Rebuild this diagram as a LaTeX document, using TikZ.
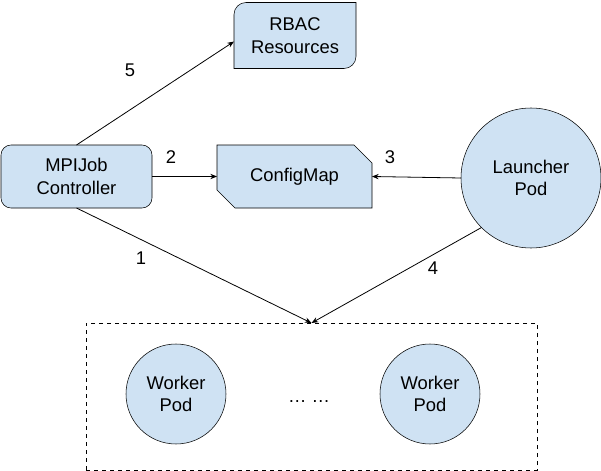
\documentclass[tikz,border=0pt]{standalone}
\usepackage{fontspec}
\setmainfont{Liberation Sans}
\usetikzlibrary{shapes.misc,shapes.geometric,backgrounds,arrows.meta}
\definecolor{boxblue}{HTML}{CFE2F3}
\newcommand*\boxfont{\fontsize{13.8}{16.8}\selectfont}
\tikzset{
    box/.style      = {fill=boxblue, inner sep=0pt, outer sep=0pt,
                      align=center, font=\boxfont},
    roundbox/.style = {box, draw, rounded corners=7.5pt},
    snipbox/.style  = {box, draw, chamfered rectangle,
                      chamfered rectangle xsep=7pt, chamfered rectangle ysep=7pt,
                      chamfered rectangle corners={north east,south west}},
    diagbox/.style  = {box, fill=none},
    podcircle/.style= {box, draw, circle},
    step label/.style = {font=\boxfont, inner sep=0pt},
    link/.style     = {draw, line width=0.6pt, -{Stealth[length=5pt,width=4pt]}},
}

\begin{document}
\begin{tikzpicture}[x=0.75pt, y=-0.75pt]
    \useasboundingbox (0,0) rectangle (601,471);

    % boxes
    \node[roundbox, minimum width=113.25pt, minimum height=47.25pt] (ctrl) at (76.5,176.5) {MPIJob\\Controller};
    \node[snipbox, minimum width=116.25pt, minimum height=47.25pt] (cfg) at (294.5,176.5) {ConfigMap};
    \node[diagbox, minimum width=91.5pt, minimum height=49.5pt] (rbac) at (295,35.5) {RBAC\\Resources};
    \begin{scope}[on background layer]
        \draw[fill=boxblue] (rbac.north east) -- ([yshift=9pt]rbac.south east)
            arc[start angle=0, end angle=-90, radius=9pt] -- (rbac.south west)
            -- ([yshift=-9pt]rbac.north west)
            arc[start angle=180, end angle=90, radius=9pt] -- cycle;
    \end{scope}

    % pods
    \node[podcircle, minimum size=105pt] (launcher) at (531,178) {Launcher\\Pod};
    \node[draw, dashed, line width=0.6pt, inner sep=0pt, outer sep=0pt,
          minimum width=338.25pt, minimum height=110.25pt] (workers) at (311.5,396.5) {};
    \node[podcircle, minimum size=75pt] (worka) at (176,394) {Worker\\Pod};
    \node[podcircle, minimum size=75pt] (workb) at (430,394) {Worker\\Pod};
    \node[step label] (dots) at (309,402) {\dots\ \dots};

    % connectors
    \draw[link] (ctrl.north) -- ([yshift=-4.5pt]rbac.west);
    \draw[link] (ctrl.east) -- (cfg.west);
    \draw[link] (launcher.west) -- (cfg.east);
    \draw[link] (ctrl.south) -- (workers.north);
    \draw[link] (launcher.225) -- (workers.north);

    % step numbers
    \node[step label] (n5) at (130,70) {5};
    \node[step label] (n2) at (171,157) {2};
    \node[step label] (n3) at (390,157) {3};
    \node[step label] (n1) at (141,258) {1};
    \node[step label] (n4) at (433,268) {4};
\end{tikzpicture}
\end{document}
